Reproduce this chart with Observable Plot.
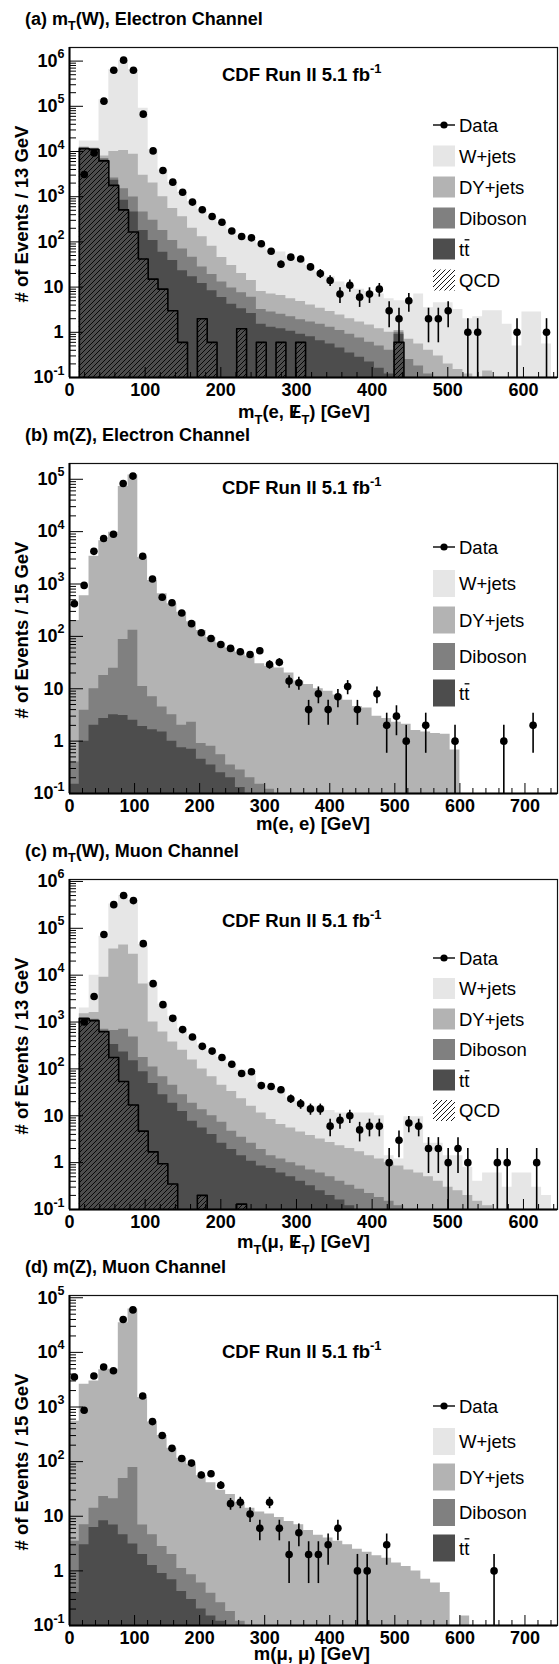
<!DOCTYPE html>
<html>
<head>
<meta charset="utf-8">
<script src="https://cdn.jsdelivr.net/npm/d3@7"></script>
<script src="https://cdn.jsdelivr.net/npm/@observablehq/plot@0.6"></script>
<style>
html,body{margin:0;padding:0;background:#fff;}
#chart{width:559px;}
#chart svg{display:block;font-family:"Liberation Sans",Arial,Helvetica,sans-serif;}
</style>
</head>
<body>
<div id="chart"></div>
<script>
// ---------- DATA (bin contents; MC arrays are the stacked levels) ----------
// (a) mT(W) electron, 13 GeV bins from 0
const aData = [0,3100,9300,130000,630000,1050000,630000,67000,10300,3800,2100,1250,760,515,365,273,174,132,123,91,62,32,46,42,28,20,14,7,11,6,7,9,3,2,5,0,2,2,3,0,1,1,0,0,0,1,0,0,1];
const aW   = [0,17000,17000,140000,650000,1000000,650000,90000,11000,3900,2100,1250,780,520,360,265,185,140,115,90,66,60,48,40,30,22,17,13,11,9,8,7,5.5,5,5,7,3.5,4.5,4.5,3.2,2,2.2,3,3,1.5,0.5,2.8,2.8,0.55];
const aDY  = [0,12500,12000,8000,10000,10500,8700,3000,2000,1000,550,360,200,130,80,45,30,20,14,8,7,6.5,5.5,4.8,4,3.4,2.9,2.4,2,1.7,1.45,1.2,1,1.1,0.7,0.55,0.4,0.3,0.2,0.15,0.12,0,0.14,0,0,0,0,0,0];
const aDB  = [0,12200,11700,7000,2600,1500,980,460,300,178,107,70,46,28,19,13,9.5,7.5,6,3.2,2.8,2.5,2.2,1.9,1.7,1.5,1.3,1.1,0.9,0.75,0.6,0.5,0.4,1.0,0.25,0.18,0.12,0,0,0,0,0,0,0,0,0,0,0,0];
const aTT  = [0,12000,11500,6500,2300,830,460,178,107,59,39,23,17,12,8.3,5.9,4.2,3.3,2.6,1.5,1.3,1.2,1.05,0.9,0.8,0.65,0.55,0.45,0.35,0.28,0.22,0.16,0.12,0.9,0.08,0,0,0,0,0,0,0,0,0,0,0,0,0,0];
const aQCD = [0,11500,11000,6200,1780,510,166,42,15,9,3,0.6,0,2,0.6,0,0,1.2,0,0.6,0,0.6,0,0.6,0,0,0,0,0,0,0,0,0,0.6,0,0,0,0,0,0,0,0,0,0,0,0,0,0,0];
// (b) m(Z) electron, 15 GeV bins from 0
const bData = [420,940,4200,7400,8900,83000,115000,3400,1250,560,440,280,175,117,91,70,59,51,45,53,29,32,14,13,4,8,4,7,11,4,0,8,2,3,1,0,2,0,0,1,0,0,0,0,1,0,0,2,0,0];
const bDY  = [200,600,3400,6700,9700,73000,120000,3200,1170,650,420,290,190,130,95,75,60,50,42,30,27,25,20,14,12,10,9,7.6,6,4.6,4.3,3,2.7,2.3,2.1,1.6,1.5,1.4,1.35,0.68,0,0,0,0,0,0,0,0,0,0];
const bDB  = [0.4,3.9,10,18,24.5,87,131,11,7,4.5,3.2,2.0,2.3,0.9,0.8,0.55,0.35,0.28,0.2,0.15,0.12,0,0,0,0,0,0,0,0,0,0,0,0,0,0,0,0,0,0,0,0,0,0,0,0,0,0,0,0,0];
const bTT  = [0.15,1.0,2.0,2.7,3.2,3.1,2.5,1.9,1.65,1.5,1.0,0.75,0.7,0.45,0.35,0.25,0.2,0.13,0,0,0,0,0,0,0,0,0,0,0,0,0,0,0,0,0,0,0,0,0,0,0,0,0,0,0,0,0,0,0,0];
// (c) mT(W) muon, 13 GeV bins from 0
const cData = [0,1000,3500,74000,320000,500000,390000,47000,6600,2350,1200,690,480,303,240,175,126,80,87,44,42,36,23,18,14,14,6,8,10,5,6,6,1,3,7,6,2,2,1,2,1,0,0,1,1,0,0,1,0];
const cW   = [0,2000,10000,68000,330000,500000,390000,45000,7000,2400,1300,720,480,320,240,175,130,95,80,50,42,36,24,20,16,16,13,11.5,11.5,11.5,11.5,10,1.4,1.2,9.5,9.5,2.6,2.6,1.4,1.4,0.8,0.4,0.6,0.6,0.3,0.6,0.6,0.3,0.2];
const cDY  = [0,1500,1600,9000,36000,44000,28000,6500,1000,610,375,250,155,100,68,45,33,23,16,11.5,8.3,6.5,5.5,4.5,3.8,3.2,2.7,2.3,2,1.7,1.4,1.2,1.0,0.85,0.7,0.6,0.5,0.4,0.3,0.25,0.2,0.15,0.12,0.1,0,0,0,0,0];
const cDB  = [0,1250,1150,700,660,700,480,175,110,68,45,28,18.6,13.5,10,7.3,4.7,3.5,2.6,1.9,1.4,1.2,1.0,0.85,0.7,0.6,0.5,0.4,0.33,0.27,0.22,0.18,0.15,0.12,0.1,0,0,0,0,0,0,0,0,0,0,0,0,0,0];
const cTT  = [0,1200,1100,650,330,230,150,87,49,28,18.6,12.3,7.6,5.5,4,2.6,1.9,1.4,1.07,0.85,0.75,0.6,0.5,0.4,0.32,0.25,0.2,0.16,0.12,0.1,0,0,0,0,0,0,0,0,0,0,0,0,0,0,0,0,0,0,0];
const cQCD = [0,1180,1070,620,175,54,17,4.7,1.7,0.95,0.35,0,0,0.2,0,0,0,0.13,0,0,0,0,0,0,0,0,0,0,0,0,0,0,0,0,0,0,0,0,0,0,0,0,0,0,0,0,0,0,0];
// (d) m(Z) muon, 15 GeV bins from 0
const dData = [3550,870,3700,5400,4600,40000,60000,1590,540,300,175,114,94,57,60,37,17,18,11,6,18,6,2,5,2,2,3,6,0,1,1,0,3,0,0,0,0,0,0,0,0,0,0,1,0,0,0,0,0,0];
const dDY  = [550,2600,3000,4800,4900,35000,62000,1500,530,300,175,115,90,55,41,30,25,18,14,12,11,9.5,8,7,5.5,4.5,4,3.5,3,2.5,2.2,1.9,1.7,1.4,1.2,1.0,0.7,0.6,0.4,0,0.15,0,0,0,0,0,0,0,0,0];
const dDB  = [3.5,7,14,23,21,49,78,6.9,4.6,2.8,2.0,1.1,0.85,0.6,0.39,0.26,0.18,0.12,0,0,0,0,0,0,0,0,0,0,0,0,0,0,0,0,0,0,0,0,0,0,0,0,0,0,0,0,0,0,0,0];
const dTT  = [0.4,3,6.2,8.3,6.9,4.6,3.1,2.0,1.25,0.9,0.69,0.42,0.3,0.2,0.15,0.12,0.1,0,0,0,0,0,0,0,0,0,0,0,0,0,0,0,0,0,0,0,0,0,0,0,0,0,0,0,0,0,0,0,0,0];

const legendW = ["Data","W+jets","DY+jets","Diboson","tt","QCD"];
const legendZ = ["Data","W+jets","DY+jets","Diboson","tt"];

// ---------- LAYOUT ----------
const W = 559, H = 416, MT = 47, MB = 39, ML = 69, MR = 2;
const FW = W - ML - MR, FH = H - MT - MB;
const FLOOR = 1e-3;
const FONT = "'Liberation Sans', Arial, Helvetica, sans-serif";
const COL = {w:"#e6e6e6", dy:"#b3b3b3", db:"#808080", tt:"#4d4d4d"};

const panels = [
  {id:"a", title:[{t:"(a) m"},{t:"T",sub:true},{t:"(W), Electron Channel"}], yTitle:"# of Events / 13 GeV",
   bw:13, xMax:645, yMax:2e6, data:aData, w:aW, dy:aDY, db:aDB, tt:aTT, qcd:aQCD,
   xTitle:[{t:"m"},{t:"T",sub:true},{t:"(e, "},{t:"E",slash:true},{t:"T",sub:true},{t:") [GeV]"}], xTitleDy:41,
   cdf:34, leg:legendW, legTop:78, legStep:31, legH:21},
  {id:"b", title:[{t:"(b) m(Z), Electron Channel"}], yTitle:"# of Events / 15 GeV",
   bw:15, xMax:750, yMax:2e5, data:bData, w:null, dy:bDY, db:bDB, tt:bTT, qcd:null,
   xTitle:[{t:"m(e, e) [GeV]"}], xTitleDy:37,
   cdf:31, leg:legendZ, legTop:84, legStep:36.5, legH:27},
  {id:"c", title:[{t:"(c) m"},{t:"T",sub:true},{t:"(W), Muon Channel"}], yTitle:"# of Events / 13 GeV",
   bw:13, xMax:645, yMax:1.1e6, data:cData, w:cW, dy:cDY, db:cDB, tt:cTT, qcd:cQCD,
   xTitle:[{t:"m"},{t:"T",sub:true},{t:"(\u03bc, "},{t:"E",slash:true},{t:"T",sub:true},{t:") [GeV]"}], xTitleDy:39,
   cdf:48, leg:legendW, legTop:79, legStep:30.5, legH:21},
  {id:"d", title:[{t:"(d) m(Z), Muon Channel"}], yTitle:"# of Events / 15 GeV",
   bw:15, xMax:750, yMax:1.1e5, data:dData, w:null, dy:dDY, db:dDB, tt:dTT, qcd:null,
   xTitle:[{t:"m(\u03bc, \u03bc) [GeV]"}], xTitleDy:35,
   cdf:63, leg:legendZ, legTop:111, legStep:35.5, legH:27}
];

function stepRows(vals, bw) {
  const rows = vals.map((v, i) => ({x: i * bw, v: v > 0 ? v : FLOOR}));
  rows.push({x: vals.length * bw, v: rows[rows.length - 1].v});
  return rows;
}

function richText(g, x, y, parts, size, opts = {}) {
  const t = g.append("text").attr("x", x).attr("y", y)
    .attr("font-size", size).attr("font-weight", opts.weight || "bold")
    .attr("fill", "#000").attr("text-anchor", opts.anchor || "start");
  if (opts.transform) t.attr("transform", opts.transform);
  let inSub = false, pendingDx = 0;
  for (const p of parts) {
    const s = t.append("tspan").text(p.t);
    let dy = 0;
    if (p.sub && !inSub) { dy = size * 0.3; inSub = true; }
    else if (!p.sub && inSub) { dy = -size * 0.3; inSub = false; }
    if (p.sub) s.attr("font-size", size * 0.7);
    if (p.sup) { s.attr("font-size", size * 0.7); s.attr("dy", -size * 0.42); }
    else if (dy) s.attr("dy", dy);
    if (pendingDx) { s.attr("dx", pendingDx); pendingDx = 0; }
    if (p.slash) {
      t.append("tspan").text("/").attr("dx", -size * 0.5);
      pendingDx = size * 0.222;
    }
  }
  return t;
}

function makePanel(p) {
  const marks = [];
  const layers = [[p.w, COL.w], [p.dy, COL.dy], [p.db, COL.db], [p.tt, COL.tt]];
  for (const [vals, fill] of layers) {
    if (!vals) continue;
    marks.push(Plot.areaY(stepRows(vals, p.bw), {x: "x", y1: FLOOR, y2: "v", curve: "step-after", fill, clip: true}));
  }
  if (p.qcd) {
    const rows = stepRows(p.qcd, p.bw);
    marks.push(Plot.areaY(rows, {x: "x", y1: FLOOR, y2: "v", curve: "step-after", fill: `url(#hatch-${p.id})`, clip: true}));
    marks.push(Plot.line(rows, {x: "x", y: "v", curve: "step-after", stroke: "#000", strokeWidth: 1.6, clip: true}));
  }
  // axis ticks (inside, ROOT style)
  const decades = d3.range(-1, Math.floor(Math.log10(p.yMax)) + 1).map(e => +(10 ** e).toPrecision(6));
  const minors = decades.flatMap(d => d3.range(2, 10).map(k => +(k * d).toPrecision(6))).filter(v => v <= p.yMax);
  marks.push(Plot.tickY(decades, {y: d => d, stroke: "#000", strokeWidth: 1, insetRight: FW - 14}));
  marks.push(Plot.tickY(minors, {y: d => d, stroke: "#000", strokeWidth: 1, insetRight: FW - 7}));
  const xMajor = d3.range(0, p.xMax + 1, 100);
  const xMinor = d3.range(0, p.xMax, 20).filter(v => v % 100);
  marks.push(Plot.tickX(xMajor, {x: d => d, stroke: "#000", strokeWidth: 1, insetTop: FH - 10}));
  marks.push(Plot.tickX(xMinor, {x: d => d, stroke: "#000", strokeWidth: 1, insetTop: FH - 5}));
  // frame
  marks.push(Plot.frame({stroke: "#111", strokeWidth: 1.2}));
  marks.push(Plot.ruleX([0], {stroke: "#000", strokeWidth: 2}));
  marks.push(Plot.ruleY([0.1], {stroke: "#000", strokeWidth: 2}));
  // data with Poisson error bars
  const pts = p.data.map((v, i) => ({x: (i + 0.5) * p.bw, v})).filter(d => d.v > 0);
  marks.push(Plot.ruleX(pts, {x: "x", y1: d => Math.max(d.v - Math.sqrt(d.v), FLOOR), y2: d => d.v + Math.sqrt(d.v), stroke: "#000", strokeWidth: 1.6, clip: true}));
  marks.push(Plot.dot(pts, {x: "x", y: "v", r: 3.8, fill: "#000", stroke: null}));
  // tick labels
  marks.push(Plot.text(xMajor, {x: d => d, frameAnchor: "bottom", text: d => String(d), lineAnchor: "top", dy: 6, fontSize: 18, fontWeight: "bold", fill: "#000"}));
  for (const v of decades) {
    const e = Math.round(Math.log10(v));
    if (e === 0 || e === 1) {
      marks.push(Plot.text([v], {y: d => d, frameAnchor: "left", text: () => (e === 0 ? "1" : "10"), textAnchor: "end", lineAnchor: "middle", dx: -6, fontSize: 18, fontWeight: "bold", fill: "#000"}));
    } else {
      const es = String(e);
      const ew = e < 0 ? 11 : 7;
      marks.push(Plot.text([v], {y: d => d, frameAnchor: "left", text: () => es, textAnchor: "end", lineAnchor: "middle", dx: -5, dy: -7, fontSize: 12.5, fontWeight: "bold", fill: "#000"}));
      marks.push(Plot.text([v], {y: d => d, frameAnchor: "left", text: () => "10", textAnchor: "end", lineAnchor: "middle", dx: -5 - ew, fontSize: 18, fontWeight: "bold", fill: "#000"}));
    }
  }

  const svgEl = Plot.plot({
    width: W, height: H, marginTop: MT, marginBottom: MB, marginLeft: ML, marginRight: MR,
    x: {domain: [0, p.xMax], axis: null},
    y: {type: "log", domain: [0.1, p.yMax], axis: null},
    style: {fontFamily: FONT, background: "#fff", overflow: "visible"},
    marks
  });

  const svg = d3.select(svgEl);
  // hatch pattern
  const defs = svg.insert("defs", ":first-child");
  const pat = defs.append("pattern").attr("id", `hatch-${p.id}`).attr("patternUnits", "userSpaceOnUse")
    .attr("width", 5).attr("height", 5);
  pat.append("path").attr("d", "M0,5 L5,0 M-1,1 L1,-1 M4,6 L6,4").attr("stroke", "#000").attr("stroke-width", 0.9);

  const g = svg.append("g").attr("font-family", FONT).attr("text-anchor", "start");
  // panel title
  richText(g, 25, 25, p.title, 18);
  // y title
  richText(g, 0, 0, [{t: p.yTitle}], 18.5, {anchor: "middle", transform: `translate(28,${MT + FH / 2 + 2}) rotate(-90)`});
  // x title (right-aligned)
  richText(g, 370, MT + FH + p.xTitleDy, p.xTitle, 18.5, {anchor: "end"});
  // CDF label
  richText(g, 222, MT + p.cdf, [{t: "CDF Run II 5.1 fb"}, {t: "-1", sup: true}], 18.5);
  // legend
  const lx = 433, sw = 22, tx = 459;
  p.leg.forEach((name, i) => {
    const cy = MT + p.legTop + i * p.legStep;
    if (name === "Data") {
      g.append("line").attr("x1", lx).attr("x2", lx + sw).attr("y1", cy).attr("y2", cy).attr("stroke", "#000").attr("stroke-width", 1.4);
      g.append("circle").attr("cx", lx + sw / 2).attr("cy", cy).attr("r", 3.6).attr("fill", "#000");
    } else {
      const fill = name === "W+jets" ? COL.w : name === "DY+jets" ? COL.dy : name === "Diboson" ? COL.db : name === "tt" ? COL.tt : `url(#hatch-${p.id})`;
      g.append("rect").attr("x", lx).attr("y", cy - p.legH / 2).attr("width", sw).attr("height", p.legH).attr("fill", fill);
    }
    g.append("text").attr("x", tx).attr("y", cy).attr("dy", "0.36em").attr("text-anchor", "start")
      .attr("font-size", 18.5).attr("fill", "#000").text(name);
    if (name === "tt") {
      g.append("line").attr("x1", tx + 5.6).attr("x2", tx + 10.4).attr("y1", cy - 9.2).attr("y2", cy - 9.2).attr("stroke", "#000").attr("stroke-width", 1.3);
    }
  });
  return svgEl;
}

const root = document.getElementById("chart");
for (const p of panels) root.appendChild(makePanel(p));
</script>
</body>
</html>
